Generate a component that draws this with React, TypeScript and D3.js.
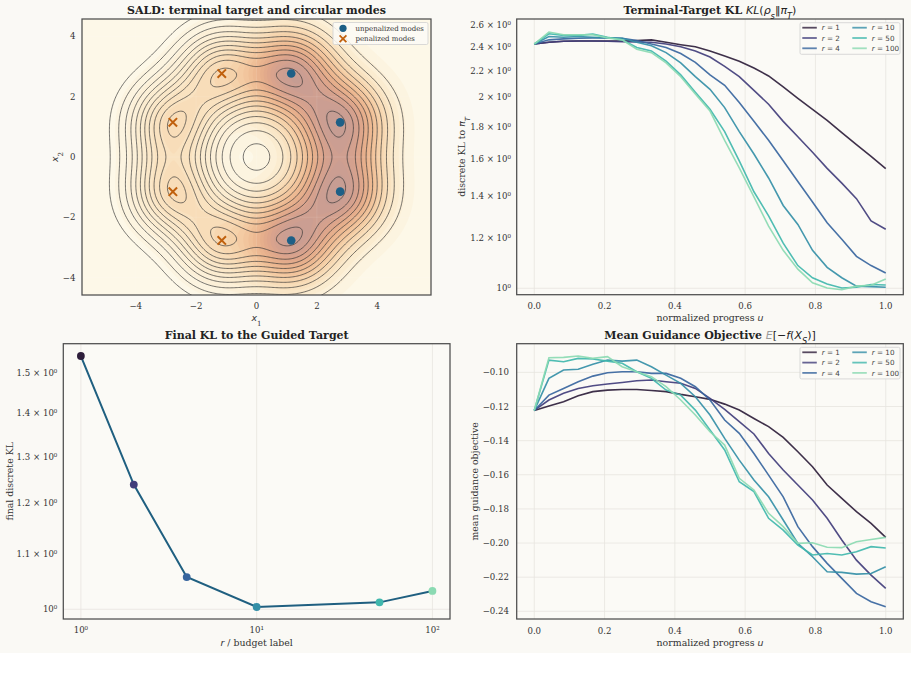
import React, { useMemo } from "react";
import * as d3 from "d3";

const W = 911;
const H = 677;
const FIG_H = 653;
const BG = "#faf9f5";
const SERIF = "DejaVu Serif";
const SANS = "DejaVu Sans";

// ---------- data ----------
const unpenalizedModes: [number, number][] = [
  [1.15, 2.77],
  [2.77, 1.15],
  [2.77, -1.15],
  [1.15, -2.77],
];
const penalizedModes: [number, number][] = [
  [-1.15, 2.77],
  [-2.77, 1.15],
  [-2.77, -1.15],
  [-1.15, -2.77],
];
const MODE_SIGMA = 1.0;
const PENALIZED_WEIGHT = 0.3;

const progressU = [
  0, 0.0417, 0.0833, 0.125, 0.1667, 0.2083, 0.25, 0.2917, 0.3333, 0.375, 0.4167, 0.4583, 0.5,
  0.5417, 0.5833, 0.625, 0.6667, 0.7083, 0.75, 0.7917, 0.8333, 0.875, 0.9167, 0.9583, 1.0,
];

const budgets = [1, 2, 4, 10, 50, 100];
const budgetLabels = ["1", "2", "4", "10", "50", "100"];
const makoColors = ["#2e1e3b", "#413d7b", "#37659e", "#348fa7", "#40b7ad", "#8bdab2"];

const klR1 = [2.429, 2.444, 2.453, 2.456, 2.456, 2.456, 2.456, 2.46, 2.466, 2.444, 2.423, 2.405, 2.369, 2.325, 2.282, 2.226, 2.163, 2.078, 1.994, 1.916, 1.841, 1.76, 1.685, 1.615, 1.545];
const klR2 = [2.429, 2.444, 2.453, 2.456, 2.456, 2.453, 2.45, 2.447, 2.444, 2.429, 2.405, 2.369, 2.317, 2.239, 2.157, 2.052, 1.952, 1.834, 1.734, 1.639, 1.546, 1.465, 1.385, 1.277, 1.239];
const klR4 = [2.429, 2.466, 2.475, 2.481, 2.484, 2.484, 2.481, 2.46, 2.429, 2.399, 2.346, 2.273, 2.171, 2.091, 1.964, 1.834, 1.712, 1.589, 1.474, 1.368, 1.269, 1.195, 1.123, 1.086, 1.057];
const klR10 = [2.429, 2.496, 2.49, 2.496, 2.49, 2.484, 2.481, 2.444, 2.414, 2.354, 2.268, 2.157, 2.06, 1.928, 1.767, 1.629, 1.493, 1.351, 1.261, 1.148, 1.079, 1.039, 1.008, 1.006, 1.004];
const klR50 = [2.429, 2.521, 2.506, 2.506, 2.518, 2.49, 2.466, 2.399, 2.369, 2.282, 2.171, 2.039, 1.916, 1.767, 1.589, 1.42, 1.301, 1.178, 1.086, 1.039, 1.016, 1.001, 1.004, 1.014, 1.012];
const klR100 = [2.429, 2.537, 2.512, 2.512, 2.512, 2.484, 2.466, 2.384, 2.354, 2.268, 2.157, 2.026, 1.904, 1.712, 1.549, 1.394, 1.253, 1.148, 1.072, 1.02, 1.001, 0.995, 1.008, 1.011, 1.034];

const guidR1 = [-0.1223, -0.1197, -0.1172, -0.1137, -0.1113, -0.1104, -0.11, -0.11, -0.1106, -0.1113, -0.1129, -0.1143, -0.1158, -0.1186, -0.1221, -0.127, -0.1318, -0.1381, -0.1465, -0.1553, -0.166, -0.1738, -0.1816, -0.1885, -0.1967];
const guidR2 = [-0.1223, -0.1162, -0.1123, -0.1094, -0.1078, -0.1068, -0.1059, -0.1049, -0.1045, -0.1055, -0.1064, -0.1094, -0.1152, -0.1217, -0.1289, -0.1361, -0.1475, -0.1572, -0.166, -0.1748, -0.1855, -0.1982, -0.21, -0.2188, -0.2266];
const guidR4 = [-0.1223, -0.1133, -0.1094, -0.1055, -0.1022, -0.1002, -0.0996, -0.0996, -0.1006, -0.1006, -0.1035, -0.1084, -0.1162, -0.1279, -0.1357, -0.1475, -0.1602, -0.1729, -0.1904, -0.2021, -0.2119, -0.2207, -0.2295, -0.2344, -0.2373];
const guidR10 = [-0.1223, -0.1035, -0.0986, -0.0982, -0.0953, -0.0928, -0.0934, -0.0928, -0.0967, -0.1016, -0.1064, -0.1143, -0.125, -0.1387, -0.1514, -0.1631, -0.1729, -0.1865, -0.2002, -0.208, -0.2168, -0.2172, -0.2182, -0.2178, -0.2139];
const guidR50 = [-0.1223, -0.0928, -0.0938, -0.0918, -0.0922, -0.0934, -0.0947, -0.0996, -0.1035, -0.1104, -0.1133, -0.1221, -0.1338, -0.1455, -0.1641, -0.1699, -0.1855, -0.1924, -0.2012, -0.207, -0.2061, -0.207, -0.2051, -0.2021, -0.2029];
const guidR100 = [-0.1223, -0.0914, -0.0912, -0.0904, -0.0918, -0.0908, -0.0967, -0.0996, -0.1025, -0.1084, -0.1162, -0.125, -0.1348, -0.1426, -0.1621, -0.1689, -0.1826, -0.1904, -0.2002, -0.1998, -0.2025, -0.2027, -0.1992, -0.1979, -0.1967];

const finalKL = [1.545, 1.239, 1.057, 1.004, 1.012, 1.032];

const klSeries = [klR1, klR2, klR4, klR10, klR50, klR100];
const guidSeries = [guidR1, guidR2, guidR4, guidR10, guidR50, guidR100];

const posTicks = [-4, -2, 0, 2, 4];
const progressTicks = [0, 0.2, 0.4, 0.6, 0.8, 1.0];
const klTicks = [1, 1.2, 1.4, 1.6, 1.8, 2, 2.2, 2.4, 2.6];
const finalTicks = [1, 1.1, 1.2, 1.3, 1.4, 1.5];
const budgetTicks = [1, 10, 100];
const budgetTickLabels = ["10⁰", "10¹", "10²"];
const guidTicks = [-0.1, -0.12, -0.14, -0.16, -0.18, -0.2, -0.22, -0.24];

// ---------- layout ----------
const P1 = { l: 82, r: 431, t: 19, b: 295 };
const P2 = { l: 516.7, r: 903.3, t: 19, b: 294.7 };
const P3 = { l: 63.3, r: 450, t: 343.7, b: 619 };
const P4 = { l: 516.7, r: 903.3, t: 343.7, b: 619 };

const GRID = "#e7e5df";
const FRAME = "#4d4d4d";
const TXT = "#333333";
const TICK_FS = 8.6;
const LABEL_FS = 9.4;
const TITLE_FS = 11;
const TOP_TICK_Y = 308.5;
const TOP_LABEL_Y = 320.5;

const fmtMinus = (v: number, d: number) => v.toFixed(d).replace("-", "\u2212");
const logLabel = (v: number) => (v === 1 ? "10⁰" : `${+v.toFixed(2)} × 10⁰`);

function Frame({ p }: { p: typeof P1 }) {
  return (
    <rect x={p.l} y={p.t} width={p.r - p.l} height={p.b - p.t} fill="none" stroke={FRAME} strokeWidth={1.25} />
  );
}

function Sub({ children }: { children: React.ReactNode }) {
  return (
    <tspan baselineShift="sub" fontSize="75%">
      {children}
    </tspan>
  );
}

// ---------- contour panel ----------
function ContourPanel() {
  const sx = d3.scaleLinear().domain([-5.78, 5.78]).range([P1.l, P1.r]);
  const sy = d3.scaleLinear().domain([-4.58, 4.58]).range([P1.b, P1.t]);

  const { fills, lines } = useMemo(() => {
    const NX = 280, NY = 220;
    const gx0 = -6.1, gx1 = 6.1, gy0 = -4.9, gy1 = 4.9;
    const dx = (gx1 - gx0) / (NX - 1);
    const dy = (gy1 - gy0) / (NY - 1);
    const s2 = 2 * MODE_SIGMA * MODE_SIGMA;
    const modes = [
      ...unpenalizedModes.map((m) => ({ m, w: 1 })),
      ...penalizedModes.map((m) => ({ m, w: PENALIZED_WEIGHT })),
    ];
    const base = new Float64Array(NX * NY);
    const tilt = new Float64Array(NX * NY);
    for (let j = 0; j < NY; j++) {
      const y = gy1 - j * dy;
      for (let i = 0; i < NX; i++) {
        const x = gx0 + i * dx;
        let b = 0, t = 0;
        for (const { m, w } of modes) {
          const e = Math.exp(-((x - m[0]) ** 2 + (y - m[1]) ** 2) / s2);
          b += e;
          t += w * e;
        }
        base[j * NX + i] = b;
        tilt[j * NX + i] = t;
      }
    }
    const proj = d3.geoTransform({
      point(px: number, py: number) {
        (this as any).stream.point(sx(gx0 + (px - 0.5) * dx), sy(gy1 - (py - 0.5) * dy));
      },
    });
    const path = d3.geoPath(proj);
    const tMax = d3.max(tilt as any as number[]) as number;
    const nFill = 22;
    const fillThr = d3.range(1, nFill).map((k) => (k * tMax) / nFill);
    const cmap = d3.interpolateRgbBasis(["#fdf8e8", "#fbeacb", "#f7d6ae", "#f0bf95", "#e5aa88", "#d29f8f", "#c29c95"]);
    const fc = d3.contours().size([NX, NY]).thresholds(fillThr)(Array.from(tilt));
    const fills = fc.map((c) => ({ d: path(c as any) || "", color: cmap(c.value / tMax) }));
    const lineThr = d3.range(11).map((k) => 0.12 + (k * (1.112 - 0.12)) / 10);
    const lc = d3.contours().size([NX, NY]).thresholds(lineThr)(Array.from(base));
    const lines = lc.map((c) => path(c as any) || "");
    return { fills, lines };
  }, []);

  return (
    <g>
      <defs>
        <clipPath id="clip1">
          <rect x={P1.l} y={P1.t} width={P1.r - P1.l} height={P1.b - P1.t} />
        </clipPath>
      </defs>
      <g clipPath="url(#clip1)">
        <rect x={P1.l} y={P1.t} width={P1.r - P1.l} height={P1.b - P1.t} fill="#fdf8e8" />
        {fills.map((f, i) => (
          <path key={i} d={f.d} fill={f.color} stroke="none" />
        ))}
        {posTicks.map((t) => (
          <g key={"g" + t}>
            <line x1={sx(t)} x2={sx(t)} y1={P1.t} y2={P1.b} stroke="#ffffff" strokeOpacity={0.12} strokeWidth={0.8} />
            <line x1={P1.l} x2={P1.r} y1={sy(t)} y2={sy(t)} stroke="#ffffff" strokeOpacity={0.12} strokeWidth={0.8} />
          </g>
        ))}
        {lines.map((d, i) => (
          <path key={i} d={d} fill="none" stroke="#333333" strokeOpacity={0.85} strokeWidth={0.8} />
        ))}
        {unpenalizedModes.map((m, i) => (
          <circle key={i} cx={sx(m[0])} cy={sy(m[1])} r={4.3} fill="#1d5f86" />
        ))}
        {penalizedModes.map((m, i) => {
          const cx = sx(m[0]), cy = sy(m[1]), s = 4.2;
          return (
            <path key={i} d={`M${cx - s},${cy - s}L${cx + s},${cy + s}M${cx - s},${cy + s}L${cx + s},${cy - s}`} stroke="#c0600d" strokeWidth={2} />
          );
        })}
      </g>
      <Frame p={P1} />
      {posTicks.map((t) => (
        <text key={"tx" + t} x={sx(t)} y={TOP_TICK_Y} textAnchor="middle" fontSize={TICK_FS} fill={TXT}>
          {fmtMinus(t, 0)}
        </text>
      ))}
      {posTicks.map((t) => (
        <text key={"ty" + t} x={75.5} y={sy(t) + 3} textAnchor="end" fontSize={TICK_FS} fill={TXT}>
          {fmtMinus(t, 0)}
        </text>
      ))}
      <text x={(P1.l + P1.r) / 2} y={TOP_LABEL_Y} textAnchor="middle" fontSize={LABEL_FS} fill={TXT}>
        <tspan fontStyle="italic" fontFamily={SANS}>x</tspan>
        <Sub>1</Sub>
      </text>
      <text transform={`translate(58,${(P1.t + P1.b) / 2}) rotate(-90)`} textAnchor="middle" fontSize={LABEL_FS} fill={TXT}>
        <tspan fontStyle="italic" fontFamily={SANS}>x</tspan>
        <Sub>2</Sub>
      </text>
      <text x={(P1.l + P1.r) / 2} y={14} textAnchor="middle" fontSize={TITLE_FS} fontWeight="bold" fill="#222">
        SALD: terminal target and circular modes
      </text>
      {/* legend */}
      <rect x={333} y={22.5} width={95} height={22} fill="#fbfaf6" fillOpacity={0.85} stroke="#d0d0d0" strokeWidth={0.8} rx={1.5} />
      <circle cx={343} cy={28.3} r={3.6} fill="#1d5f86" />
      <path d="M339.6,35.3L346.4,42.1M339.6,42.1L346.4,35.3" stroke="#c0600d" strokeWidth={1.8} />
      <text x={355.5} y={30.8} fontSize={7} fill={TXT}>unpenalized modes</text>
      <text x={355.5} y={40.8} fontSize={7} fill={TXT}>penalized modes</text>
    </g>
  );
}

// ---------- legend for line panels ----------
function SeriesLegend({ x, y }: { x: number; y: number }) {
  const rowH = 10.3;
  return (
    <g>
      <rect x={x} y={y} width={100} height={31.6} fill="#fbfaf6" fillOpacity={0.9} stroke="#d0d0d0" strokeWidth={0.8} rx={1.5} />
      {budgetLabels.map((lab, i) => {
        const col = Math.floor(i / 3);
        const row = i % 3;
        const lx = x + 2.3 + col * 50;
        const ly = y + 5 + row * rowH;
        return (
          <g key={lab}>
            <line x1={lx} x2={lx + 14.5} y1={ly} y2={ly} stroke={makoColors[i]} strokeWidth={1.8} strokeOpacity={0.8} />
            <text x={lx + 19.5} y={ly + 2.6} fontSize={7.2} fontFamily={SANS} fill="#444">
              <tspan fontStyle="italic">r</tspan>
              {" = " + lab}
            </text>
          </g>
        );
      })}
    </g>
  );
}

// ---------- KL panel ----------
function KLPanel() {
  const sx = d3.scaleLinear().domain([-0.05, 1.05]).range([P2.l, P2.r]);
  const sy = d3.scaleLog().domain([0.977, 2.66]).range([P2.b, P2.t]);
  const line = d3.line<number>().x((_, i) => sx(progressU[i])).y((v) => sy(v));
  return (
    <g>
      <rect x={P2.l} y={P2.t} width={P2.r - P2.l} height={P2.b - P2.t} fill="#fbfaf6" />
      {progressTicks.map((t) => (
        <line key={t} x1={sx(t)} x2={sx(t)} y1={P2.t} y2={P2.b} stroke={GRID} strokeWidth={0.8} />
      ))}
      <line x1={P2.l} x2={P2.r} y1={sy(1)} y2={sy(1)} stroke={GRID} strokeWidth={0.8} />
      {klSeries.map((s, i) => (
        <path key={i} d={line(s) || ""} fill="none" stroke={makoColors[i]} strokeWidth={1.6} strokeOpacity={0.92} />
      ))}
      <Frame p={P2} />
      {progressTicks.map((t) => (
        <text key={t} x={sx(t)} y={TOP_TICK_Y} textAnchor="middle" fontSize={TICK_FS} fill={TXT}>
          {t.toFixed(1)}
        </text>
      ))}
      {klTicks.map((t) => (
        <text key={t} x={511} y={sy(t) + 3} textAnchor="end" fontSize={TICK_FS} fill={TXT}>
          {logLabel(t)}
        </text>
      ))}
      <text x={(P2.l + P2.r) / 2} y={TOP_LABEL_Y} textAnchor="middle" fontSize={LABEL_FS} fill={TXT}>
        normalized progress <tspan fontStyle="italic" fontFamily={SANS}>u</tspan>
      </text>
      <text transform={`translate(465,${(P2.t + P2.b) / 2}) rotate(-90)`} textAnchor="middle" fontSize={LABEL_FS} fill={TXT}>
        discrete KL to <tspan fontStyle="italic" fontFamily={SANS}>π</tspan>
        <Sub>
          <tspan fontStyle="italic" fontFamily={SANS}>T</tspan>
        </Sub>
      </text>
      <text x={(P2.l + P2.r) / 2} y={14} textAnchor="middle" fontSize={TITLE_FS} fontWeight="bold" fill="#222">
        Terminal-Target KL{" "}
        <tspan fontWeight="normal" fontStyle="italic" fontFamily={SANS}>KL</tspan>
        <tspan fontWeight="normal" fontFamily={SANS}>(</tspan>
        <tspan fontWeight="normal" fontStyle="italic" fontFamily={SANS}>ρ</tspan>
        <tspan fontWeight="normal" fontStyle="italic" fontFamily={SANS} baselineShift="sub" fontSize="75%">s</tspan>
        <tspan fontWeight="normal" fontFamily={SANS}>‖</tspan>
        <tspan fontWeight="normal" fontStyle="italic" fontFamily={SANS}>π</tspan>
        <tspan fontWeight="normal" fontStyle="italic" fontFamily={SANS} baselineShift="sub" fontSize="75%">T</tspan>
        <tspan fontWeight="normal" fontFamily={SANS}>)</tspan>
      </text>
      <SeriesLegend x={800} y={22.7} />
    </g>
  );
}

// ---------- final KL panel ----------
function FinalPanel() {
  const sx = d3.scaleLog().domain([Math.pow(10, -0.1), Math.pow(10, 2.1)]).range([P3.l, P3.r]);
  const sy = d3.scaleLog().domain([0.9835, 1.578]).range([P3.b, P3.t]);
  const line = d3.line<number>().x((_, i) => sx(budgets[i])).y((v) => sy(v));
  return (
    <g>
      <rect x={P3.l} y={P3.t} width={P3.r - P3.l} height={P3.b - P3.t} fill="#fbfaf6" />
      {budgetTicks.map((t) => (
        <line key={t} x1={sx(t)} x2={sx(t)} y1={P3.t} y2={P3.b} stroke={GRID} strokeWidth={0.8} />
      ))}
      <line x1={P3.l} x2={P3.r} y1={sy(1)} y2={sy(1)} stroke={GRID} strokeWidth={0.8} />
      <path d={line(finalKL) || ""} fill="none" stroke="#1f5f80" strokeWidth={2} />
      {finalKL.map((v, i) => (
        <circle key={i} cx={sx(budgets[i])} cy={sy(v)} r={3.9} fill={makoColors[i]} />
      ))}
      <Frame p={P3} />
      {budgetTicks.map((t, i) => (
        <text key={t} x={sx(t)} y={633} textAnchor="middle" fontSize={TICK_FS} fill={TXT}>
          {budgetTickLabels[i]}
        </text>
      ))}
      {finalTicks.map((t) => (
        <text key={t} x={57.3} y={sy(t) + 3} textAnchor="end" fontSize={TICK_FS} fill={TXT}>
          {logLabel(t)}
        </text>
      ))}
      <text x={(P3.l + P3.r) / 2} y={645.5} textAnchor="middle" fontSize={LABEL_FS} fill={TXT}>
        <tspan fontStyle="italic" fontFamily={SANS}>r</tspan> / budget label
      </text>
      <text transform={`translate(13,${(P3.t + P3.b) / 2}) rotate(-90)`} textAnchor="middle" fontSize={LABEL_FS} fill={TXT}>
        final discrete KL
      </text>
      <text x={(P3.l + P3.r) / 2} y={339} textAnchor="middle" fontSize={TITLE_FS} fontWeight="bold" fill="#222">
        Final KL to the Guided Target
      </text>
    </g>
  );
}

// ---------- guidance panel ----------
function GuidPanel() {
  const sx = d3.scaleLinear().domain([-0.05, 1.05]).range([P4.l, P4.r]);
  const sy = d3.scaleLinear().domain([-0.2445, -0.0832]).range([P4.b, P4.t]);
  const line = d3.line<number>().x((_, i) => sx(progressU[i])).y((v) => sy(v));
  return (
    <g>
      <rect x={P4.l} y={P4.t} width={P4.r - P4.l} height={P4.b - P4.t} fill="#fbfaf6" />
      {progressTicks.map((t) => (
        <line key={t} x1={sx(t)} x2={sx(t)} y1={P4.t} y2={P4.b} stroke={GRID} strokeWidth={0.8} />
      ))}
      {guidTicks.map((t) => (
        <line key={t} x1={P4.l} x2={P4.r} y1={sy(t)} y2={sy(t)} stroke={GRID} strokeWidth={0.8} />
      ))}
      {guidSeries.map((s, i) => (
        <path key={i} d={line(s) || ""} fill="none" stroke={makoColors[i]} strokeWidth={1.6} strokeOpacity={0.92} />
      ))}
      <Frame p={P4} />
      {progressTicks.map((t) => (
        <text key={t} x={sx(t)} y={633.5} textAnchor="middle" fontSize={TICK_FS} fill={TXT}>
          {t.toFixed(1)}
        </text>
      ))}
      {guidTicks.map((t) => (
        <text key={t} x={509} y={sy(t) + 3} textAnchor="end" fontSize={TICK_FS} fill={TXT}>
          {fmtMinus(t, 2)}
        </text>
      ))}
      <text x={(P4.l + P4.r) / 2} y={645.5} textAnchor="middle" fontSize={LABEL_FS} fill={TXT}>
        normalized progress <tspan fontStyle="italic" fontFamily={SANS}>u</tspan>
      </text>
      <text transform={`translate(478,${(P4.t + P4.b) / 2}) rotate(-90)`} textAnchor="middle" fontSize={LABEL_FS} fill={TXT}>
        mean guidance objective
      </text>
      <text x={(P4.l + P4.r) / 2} y={339} textAnchor="middle" fontSize={TITLE_FS} fontWeight="bold" fill="#222">
        Mean Guidance Objective{" "}
        <tspan fontWeight="normal" fontStyle="italic" fontFamily={SANS} fill="#9a9a9a">E</tspan>
        <tspan fontWeight="normal" fontFamily={SANS}>[−</tspan>
        <tspan fontWeight="normal" fontStyle="italic" fontFamily={SANS}>f</tspan>
        <tspan fontWeight="normal" fontFamily={SANS}>(</tspan>
        <tspan fontWeight="normal" fontStyle="italic" fontFamily={SANS}>X</tspan>
        <tspan fontWeight="normal" fontStyle="italic" fontFamily={SANS} baselineShift="sub" fontSize="75%">S</tspan>
        <tspan fontWeight="normal" fontFamily={SANS}>)]</tspan>
      </text>
      <SeriesLegend x={800} y={347.3} />
    </g>
  );
}

export default function App() {
  return (
    <div style={{ position: "fixed", left: 0, top: 0, width: W, height: H, background: "#ffffff" }}>
      <svg width={W} height={H} style={{ display: "block" }} fontFamily={SERIF}>
        <rect x={0} y={0} width={W} height={FIG_H} fill={BG} />
        <ContourPanel />
        <KLPanel />
        <FinalPanel />
        <GuidPanel />
      </svg>
    </div>
  );
}
